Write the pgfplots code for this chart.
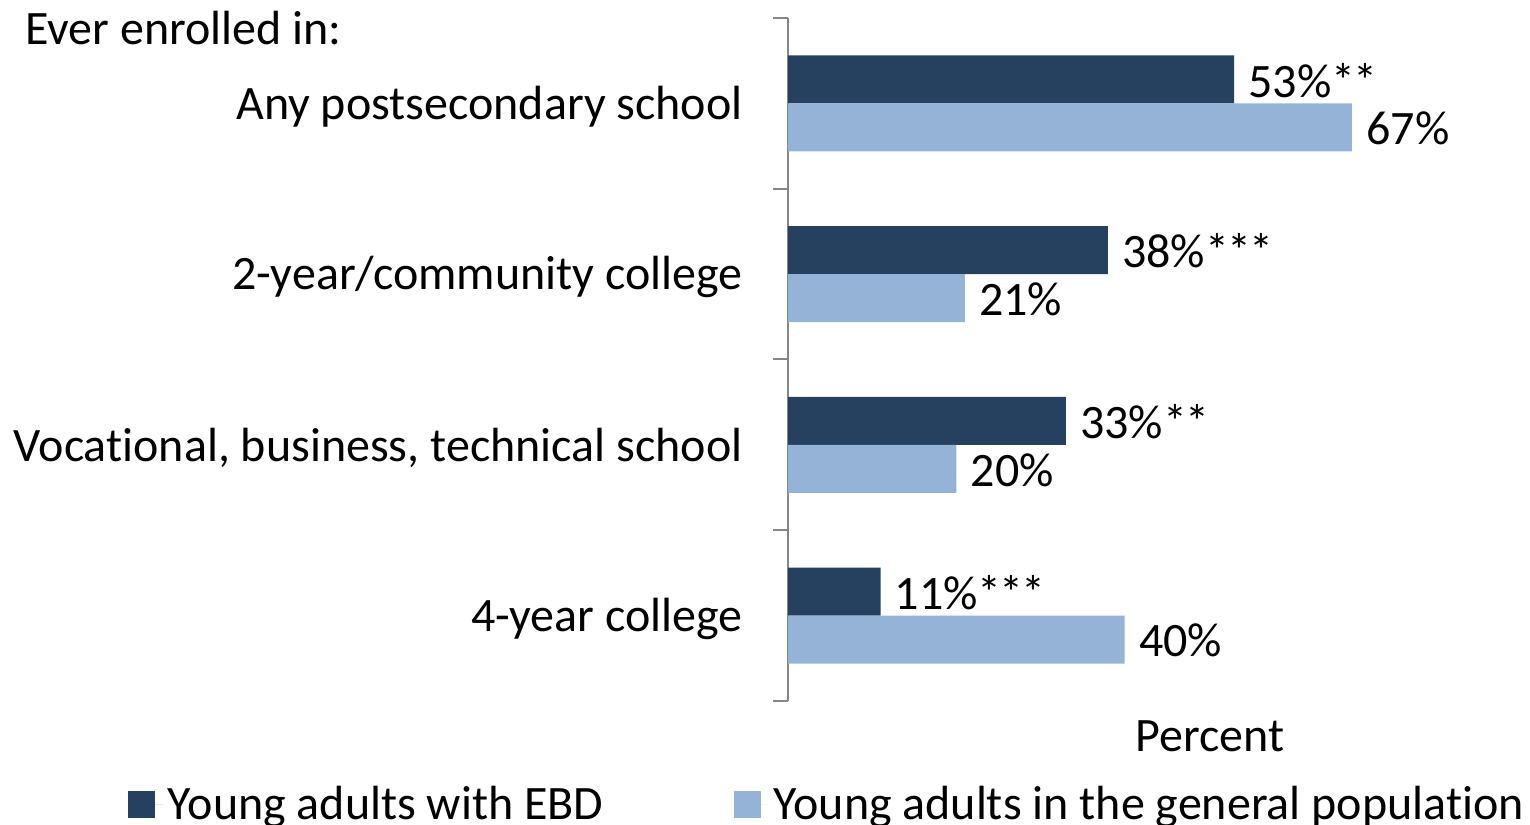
\documentclass[border=0pt]{standalone}
\usepackage{fontspec}
\setmainfont{Carlito}[Ligatures=NoCommon]
\usepackage{pgfplots}
\pgfplotsset{compat=1.18}
\usepackage{pgfplotstable}
\definecolor{darkbar}{RGB}{38,64,96}
\definecolor{lightbar}{RGB}{149,179,215}
\definecolor{axisgray}{RGB}{134,134,134}
\newcommand{\bigf}{\fontsize{24}{28}\selectfont}
\newcommand{\st}{*\kern-1pt}

\pgfplotstableread{
y x label
3 53 53\%\st*
2 38 38\%\st\st*
1 33 33\%\st*
0 11 11\%\st\st*
}\ebd
\pgfplotstableread{
y x label
3 67 67\%
2 21 21\%
1 20 20\%
0 40 40\%
}\gen

\begin{document}
\begin{tikzpicture}
\begin{axis}[
  at={(394pt,61.5pt)}, anchor=south west,
  scale only axis, width=371pt, height=341.5pt,
  xbar, bar width=24pt,
  xmin=0, xmax=88.155, ymin=-0.5, ymax=3.5,
  axis x line=none, axis y line=left,
  axis line style={-, axisgray, line width=1pt},
  ytick={0,1,2,3},
  yticklabels={4-year college, {Vocational, business, technical school}, 2-year/community college, Any postsecondary school},
  major tick length=0pt,
  extra y ticks={-0.5,0.5,1.5,2.5,3.5},
  extra y tick labels={},
  extra y tick style={major tick length=7.5pt, tick align=outside, tick style={axisgray, line width=1pt}},
  yticklabel style={font=\bigf, inner sep=0pt, xshift=-22.5pt, yshift=-1.5pt, text=black},
  nodes near coords, point meta=explicit symbolic,
  every node near coord/.append style={font=\bigf, anchor=west, inner sep=0pt, xshift=7pt, yshift=-0.5pt, text=black},
  legend columns=2,
  legend cell align=left,
  legend image code/.code={\fill[#1] (0pt,-6.75pt) rectangle (13.5pt,6.75pt); \path (0pt,0pt) -- (18pt,0pt);},
  legend style={draw=none, fill=none, inner sep=0pt, outer sep=0pt, font=\bigf,
    at={(-0.8895,-0.1515)}, anchor=west,
    /tikz/every even column/.append style={column sep=63pt}},
]
\addplot[fill=darkbar, draw=none, bar shift=12pt] table[x=x,y=y,meta=label]{\ebd};
\addlegendentry{Young adults with EBD}
\addplot[fill=lightbar, draw=none, bar shift=-12pt] table[x=x,y=y,meta=label]{\gen};
\addlegendentry{Young adults in the general population}
\end{axis}
\node[font=\bigf, anchor=base west, inner sep=0pt] at (12.5pt,389.5pt) {Ever enrolled in:};
\node[font=\bigf, anchor=base, inner sep=0pt] at (605pt,36pt) {Percent};
\pgfresetboundingbox
\useasboundingbox (0,0) rectangle (765pt,412pt);
\end{tikzpicture}
\end{document}
